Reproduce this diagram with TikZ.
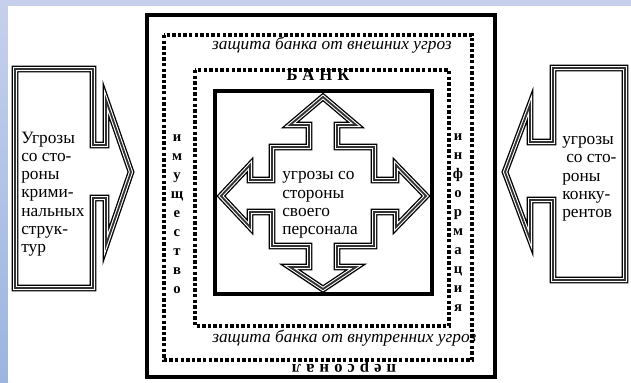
\documentclass[tikz,border=0pt]{standalone}
\usepackage{fontspec}
\setmainfont{Liberation Serif}
\usepackage{tikz}
\usetikzlibrary{positioning}
\definecolor{slidetop}{HTML}{C6D0EC}
\definecolor{slidelow}{HTML}{9CB5DF}

\begin{document}
\begin{tikzpicture}[x=0.75pt,y=-0.75pt,
    frame/.style={draw,line width=3pt},
    dotframe/.style={draw,line width=2.6pt,dash pattern=on 2.6pt off 1.6pt},
    triple/.style={draw,fill=white,line width=5pt,line join=miter,
                   postaction={draw=white,line width=3pt,line join=miter},
                   postaction={draw=black!80,line width=1.4pt,line join=miter}},
    txt/.style={font=\fontsize{13}{13.7}\selectfont,align=left,inner sep=0pt},
    vert/.style={font=\bfseries\fontsize{11}{14.25}\selectfont,align=center,inner sep=0pt},
    guard/.style={font=\itshape\fontsize{13}{15}\selectfont,inner sep=0pt},
    banner/.style={font=\bfseries\fontsize{12.5}{14}\selectfont\addfontfeature{LetterSpace=30},inner sep=0pt}
  ]
  % Slide background
  \useasboundingbox (0,0) rectangle (631,382);
  \fill[top color=slidetop,bottom color=slidelow] (0,0) rectangle (8,382);
  \fill[slidetop] (0,0) rectangle (631,6);
  \fill[white] (8,6) rectangle (631,382);

  % Bank frames
  \draw[frame] (147,15) rectangle (495,377);
  \draw[dotframe] (164,35) rectangle (472,360);
  \draw[dotframe] (195,70) rectangle (449,326);
  \draw[frame] (215,91) rectangle (432,294);

  % Outside threats
  \draw[triple] (15,69) -- (93,69) -- (93,145) -- (106,145) -- (106,100) -- (131,172)
    -- (106,245) -- (106,198) -- (93,198) -- (93,288) -- (15,288) -- cycle;
  \draw[triple] (625,68) -- (553,68) -- (553,142) -- (530,142) -- (530,105) -- (505,172)
    -- (530,239) -- (530,200) -- (553,200) -- (553,280) -- (625,280) -- cycle;

  % Inside threats
  \begin{scope}[shift={(323,196)}]
    \draw[triple] (0,-99) -- (33,-71) -- (14,-71) -- (14,-49) -- (51,-49) -- (51,-16)
      -- (73,-16) -- (73,-31) -- (103,0) -- (73,31) -- (73,16) -- (51,16) -- (51,50)
      -- (14,50) -- (14,71) -- (33,71) -- (0,93) -- (-33,71) -- (-14,71) -- (-14,50)
      -- (-51,50) -- (-51,16) -- (-73,16) -- (-73,31) -- (-102,0) -- (-73,-31)
      -- (-73,-16) -- (-51,-16) -- (-51,-49) -- (-14,-49) -- (-14,-71) -- (-33,-71) -- cycle;
  \end{scope}

  % Labels
  \node[txt,anchor=west] (crim) at (21,194) {Угрозы\\со сто-\\роны\\крими-\\нальных\\струк-\\тур};
  \node[txt,anchor=west] (comp) at (562,179) {угрозы\\\hspace{3pt}со сто-\\роны\\конку-\\рентов};
  \node[txt,anchor=west] (staff) at (282,205) {угрозы со\\стороны\\своего\\персонала};
  \node[vert] (prop) at (177,214) {и\\м\\у\\щ\\е\\с\\т\\в\\о};
  \node[vert] (info) at (458,223) {и\\н\\ф\\о\\р\\м\\а\\ц\\и\\я};
  \node[guard,anchor=east] (ext) at (452,45) {защита банка от внешних угроз};
  \node[guard,anchor=west] (int) at (212,338) {защита банка от внутренних угроз};
  \node[banner] (bank) at (318,75) {БАНК};
  \node[banner,rotate=180] (pers) at (344,367) {персонал};
\end{tikzpicture}
\end{document}
